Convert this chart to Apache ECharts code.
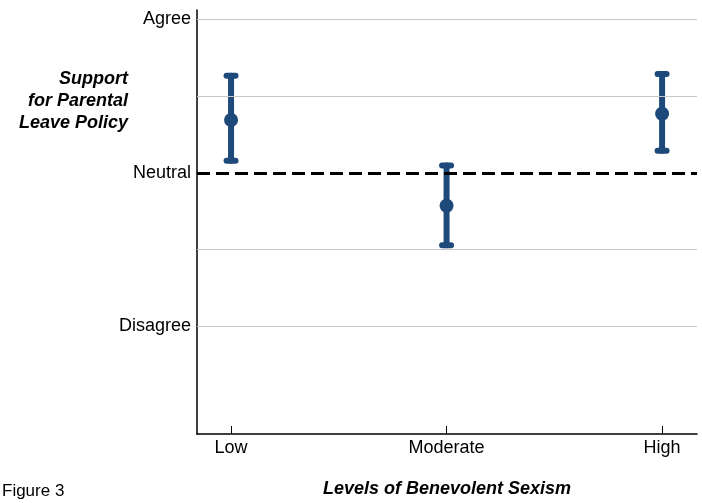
<!DOCTYPE html>
<html>
<head>
<meta charset="utf-8">
<script src="https://cdn.jsdelivr.net/npm/echarts@6/dist/echarts.min.js"></script>
<style>
html,body{margin:0;padding:0;background:#fff;}
#chart{width:702px;height:503px;}
</style>
</head>
<body>
<div id="chart"></div>
<script>
// ---- data ----
const categories = ['Low', 'Moderate', 'High'];
const categoryPositions = [1, 2, 3];
const means = [4.344, 3.786, 4.385];
const lowerCI = [4.078, 3.528, 4.143];
const upperCI = [4.632, 4.047, 4.643];
const yTickValues = [3, 4, 5];
const yTickLabels = ['Disagree', 'Neutral', 'Agree'];
const gridLineValues = [3, 3.5, 4.5, 5];
const neutralValue = 4;
const xAxisTitle = 'Levels of Benevolent Sexism';
const yAxisTitle = 'Support\nfor Parental\nLeave Policy';
const figureLabel = 'Figure 3';

const navy = '#1d4a7a';
const font = '"Liberation Sans", Arial, Helvetica, sans-serif';

const chart = echarts.init(document.getElementById('chart'), null, {renderer: 'canvas'});

const errData = categoryPositions.map((x, i) => [x, lowerCI[i], upperCI[i]]);
const meanData = categoryPositions.map((x, i) => [x, means[i]]);

const option = {
  animation: false,
  backgroundColor: '#fff',
  grid: {left: 197, right: 5, top: 10, bottom: 68, containLabel: false},
  xAxis: {
    type: 'value',
    min: 0.842,
    max: 3.162,
    name: xAxisTitle,
    nameLocation: 'middle',
    nameGap: 46,
    nameTextStyle: {fontFamily: font, fontSize: 18, fontWeight: 'bold', fontStyle: 'italic', color: '#000'},
    axisLine: {show: true, lineStyle: {color: '#000', width: 1.5}},
    axisTick: {show: true, inside: true, length: 8, customValues: categoryPositions, lineStyle: {color: '#000', width: 1}},
    axisLabel: {
      customValues: categoryPositions,
      formatter: v => categories[categoryPositions.indexOf(Math.round(v))] || '',
      fontFamily: font, fontSize: 18, color: '#000', margin: 5
    },
    splitLine: {show: false}
  },
  yAxis: {
    type: 'value',
    min: 2.30,
    max: 5.06,
    axisLine: {show: true, lineStyle: {color: '#000', width: 1.5}},
    axisTick: {show: false},
    axisLabel: {
      customValues: yTickValues,
      formatter: v => yTickLabels[yTickValues.indexOf(Math.round(v))] || '',
      fontFamily: font, fontSize: 18, color: '#000', margin: 6
    },
    splitLine: {show: false}
  },
  graphic: [
    {
      type: 'text', x: 128, y: 68,
      style: {text: yAxisTitle, font: 'italic bold 18px ' + font, fill: '#000', align: 'right', verticalAlign: 'top', lineHeight: 22}
    },
    {
      type: 'text', x: 2, y: 483,
      style: {text: figureLabel, font: '17px ' + font, fill: '#000', verticalAlign: 'top'}
    }
  ],
  series: [
    {
      type: 'line',
      data: [],
      z: 1,
      silent: true,
      markLine: {
        silent: true,
        symbol: 'none',
        label: {show: false},
        animation: false,
        data: gridLineValues.map(v => ({yAxis: v, lineStyle: {color: '#c8c8c8', width: 1, type: 'solid'}}))
          .concat([{yAxis: neutralValue, lineStyle: {color: '#000', width: 3, type: [13, 6]}}])
      }
    },
    {
      type: 'custom',
      z: 3,
      data: errData,
      renderItem: function (params, api) {
        const x = api.value(0);
        const pLo = api.coord([x, api.value(1)]);
        const pHi = api.coord([x, api.value(2)]);
        const st = {stroke: navy, lineWidth: 6, lineCap: 'round'};
        const hw = 4.5;
        return {
          type: 'group',
          children: [
            {type: 'line', shape: {x1: pLo[0], y1: pLo[1], x2: pHi[0], y2: pHi[1]}, style: st},
            {type: 'line', shape: {x1: pHi[0] - hw, y1: pHi[1], x2: pHi[0] + hw, y2: pHi[1]}, style: st},
            {type: 'line', shape: {x1: pLo[0] - hw, y1: pLo[1], x2: pLo[0] + hw, y2: pLo[1]}, style: st}
          ]
        };
      }
    },
    {
      type: 'scatter',
      z: 4,
      data: meanData,
      symbol: 'circle',
      symbolSize: 14,
      itemStyle: {color: navy, opacity: 1}
    }
  ]
};
chart.setOption(option);
</script>
</body>
</html>
